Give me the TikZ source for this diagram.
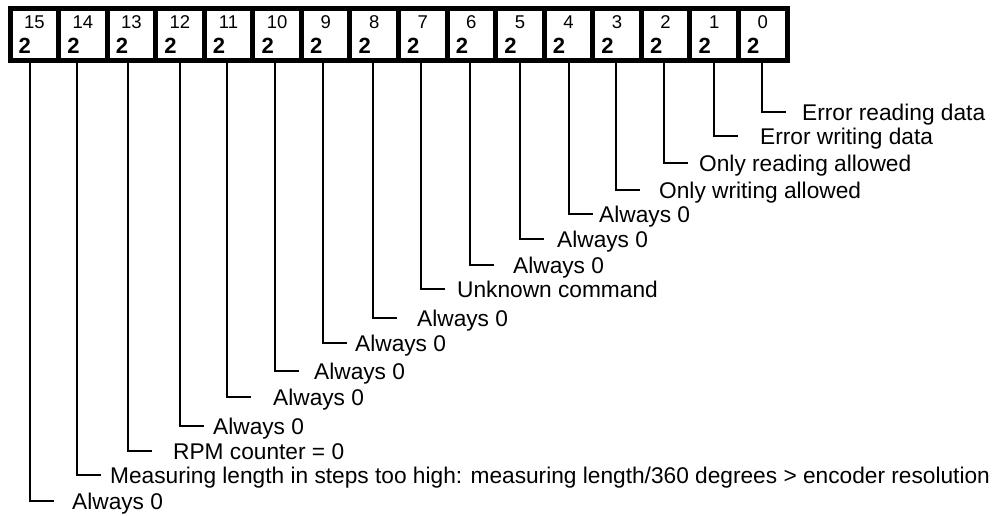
\documentclass[tikz,border=0pt]{standalone}
\usepackage{fontspec}
\setmainfont{Liberation Sans}
\begin{document}
\begin{tikzpicture}[x=1pt,y=-1pt,
  cell/.style={draw,line width=5pt,minimum width=48.56pt,minimum height=52pt,inner sep=0pt,outer sep=0pt},
  bitnum/.style={inner sep=0pt,anchor=base,font=\fontsize{18.5}{20}\selectfont},
  bitval/.style={inner sep=0pt,anchor=base west,font=\fontsize{22}{24}\selectfont\bfseries},
  lbl/.style={inner sep=0pt,anchor=base west,font=\fontsize{22.7}{26}\selectfont},
  conn/.style={line width=1.5pt}]
\useasboundingbox (0,0) rectangle (1003,515);
% register cells, bit 15 on the left
\foreach \b in {0,...,15}{
  \pgfmathsetmacro{\cx}{787-24.28-48.56*\b}
  \node[cell] (c\b) at (\cx,34.5) {};
  \node[bitnum] (n\b) at (\cx,28) {\b};
  \node[bitval] (v\b) at (\cx-24.28+8.5,53) {2};
}
% bit descriptions
\foreach \b/\lx/\ly/\tx/\t in {
  0/762/112/802/{Error reading data},
  1/714/136/760/{Error writing data},
  2/664/163/699/{Only reading allowed},
  3/616/190/659/{Only writing allowed},
  4/569/214/599/{Always 0},
  5/520/239/557/{Always 0},
  6/470/265/513/{Always 0},
  7/421/289/457/{Unknown command},
  8/373/318/417/{Always 0},
  9/323/343/355/{Always 0},
  10/275/371/314/{Always 0},
  11/227/397/273/{Always 0},
  12/180/426/213/{Always 0},
  13/128/451/173/{RPM counter = 0},
  14/77/475/110/{Measuring length in steps too high: measuring length/360 degrees > encoder resolution},
  15/30/501/72/{Always 0}}{
  \node[lbl] (l\b) at (\tx,\ly+8) {\t};
  \coordinate (t\b) at (\lx+24,\ly);
  \draw[conn] (c\b.south -| t\b) ++(-24,0) |- (t\b);
}
\end{tikzpicture}
\end{document}
